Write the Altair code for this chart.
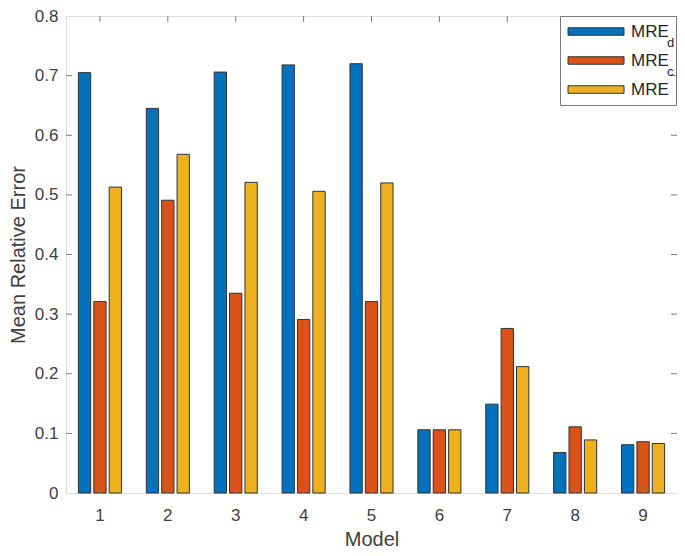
import altair as alt
import pandas as pd

models = [1, 2, 3, 4, 5, 6, 7, 8, 9]
mre_d = [0.705, 0.645, 0.706, 0.718, 0.720, 0.106, 0.149, 0.068, 0.081]
mre_c = [0.321, 0.491, 0.335, 0.291, 0.321, 0.106, 0.276, 0.111, 0.086]
mre_all = [0.513, 0.568, 0.521, 0.506, 0.520, 0.106, 0.212, 0.089, 0.083]
series_names = ["MRE_d", "MRE_c", "MRE"]
series_colors = ["#0072BD", "#D95319", "#EDB120"]
y_ticks = [0.1, 0.2, 0.3, 0.4, 0.5, 0.6, 0.7]
top_tick_models = [1, 2, 3, 4, 5, 6, 7]

rows = []
for i, m in enumerate(models):
    for k, (name, vals) in enumerate(zip(series_names, [mre_d, mre_c, mre_all])):
        rows.append({"Model": m, "Series": name, "order": k, "Value": vals[i]})
df = pd.DataFrame(rows)

FONT = "Liberation Sans"
GRAY = "#404040"
BOX = "#7a7a7a"
W, H = 611, 477
LEG_X = W - 117

legend_path = "M-1,-0.5H6.47V0.5H-1Z"

xaxis = alt.Axis(labelAngle=0, ticks=False, domain=False, labelPadding=14,
                 titlePadding=6, labelFontSize=17, titleFontSize=20,
                 labelFont=FONT, titleFont=FONT, labelColor=GRAY,
                 titleColor=GRAY, titleFontWeight="normal")
yaxis = alt.Axis(values=[0, 0.1, 0.2, 0.3, 0.4, 0.5, 0.6, 0.7, 0.8],
                 labelExpr="datum.value == 0 ? '0' : format(datum.value, '.1f')",
                 ticks=False, domain=False, grid=False, labelPadding=8,
                 titlePadding=6, labelFontSize=17, titleFontSize=20,
                 labelFont=FONT, titleFont=FONT, labelColor=GRAY,
                 titleColor=GRAY, titleFontWeight="normal")

bars = alt.Chart(df).mark_bar(stroke="#333333", strokeWidth=1).encode(
    x=alt.X("Model:O", title="Model",
            scale=alt.Scale(paddingInner=0.32, paddingOuter=0.16), axis=xaxis),
    xOffset=alt.XOffset("order:O", scale=alt.Scale(paddingInner=0.2, paddingOuter=0.1)),
    y=alt.Y("Value:Q", title="Mean Relative Error",
            scale=alt.Scale(domain=[0, 0.8], nice=False, zero=True), axis=yaxis),
    color=alt.Color("Series:N", sort=series_names,
                    scale=alt.Scale(domain=series_names, range=series_colors),
                    legend=alt.Legend(orient="none", legendX=LEG_X, legendY=0, title=None,
                                      strokeColor=BOX, padding=7,
                                      symbolType=legend_path, symbolSize=225,
                                      symbolStrokeColor="#333333", symbolStrokeWidth=1,
                                      symbolOpacity=1, labelFontSize=17, labelFont=FONT,
                                      labelColor="#262626", labelOffset=47, rowPadding=11,
                                      labelExpr="'MRE\u00a0'")),
)

ydf = pd.DataFrame({"v": y_ticks})
xdf = pd.DataFrame({"Model": models})
xdf_top = pd.DataFrame({"Model": top_tick_models})

ytick_l = alt.Chart(ydf).mark_rule(color=BOX).encode(
    y=alt.Y("v:Q", title="Mean Relative Error"), x=alt.value(0), x2=alt.value(6))
ytick_r = alt.Chart(ydf).mark_rule(color=BOX).encode(
    y=alt.Y("v:Q", title="Mean Relative Error"), x=alt.value(W - 6), x2=alt.value(W))
xtick_b = alt.Chart(xdf).mark_rule(color=BOX).encode(
    x=alt.X("Model:O", title="Model"), y=alt.value(H), y2=alt.value(H - 6))
xtick_t = alt.Chart(xdf_top).mark_rule(color=BOX).encode(
    x=alt.X("Model:O", title="Model"), y=alt.value(0), y2=alt.value(6))

sub_x = LEG_X + 7 + 62 + 38
sub_d = alt.Chart(pd.DataFrame({"t": ["d"]})).mark_text(
    font=FONT, fontSize=13, color="#262626", align="left", baseline="middle").encode(
    text="t:N", x=alt.value(sub_x), y=alt.value(27))
sub_c = alt.Chart(pd.DataFrame({"t": ["c"]})).mark_text(
    font=FONT, fontSize=13, color="#262626", align="left", baseline="middle").encode(
    text="t:N", x=alt.value(sub_x), y=alt.value(56))

chart = alt.layer(bars, ytick_l, ytick_r, xtick_b, xtick_t, sub_d, sub_c).properties(
    width=W, height=H,
    autosize=alt.AutoSizeParams(type="none"),
    padding={"left": 58, "top": 8, "right": 0, "bottom": 55},
).configure_view(stroke=BOX, strokeWidth=1).configure(background="white")

chart.save("out.html", embed_options={"renderer": "svg", "actions": False})
